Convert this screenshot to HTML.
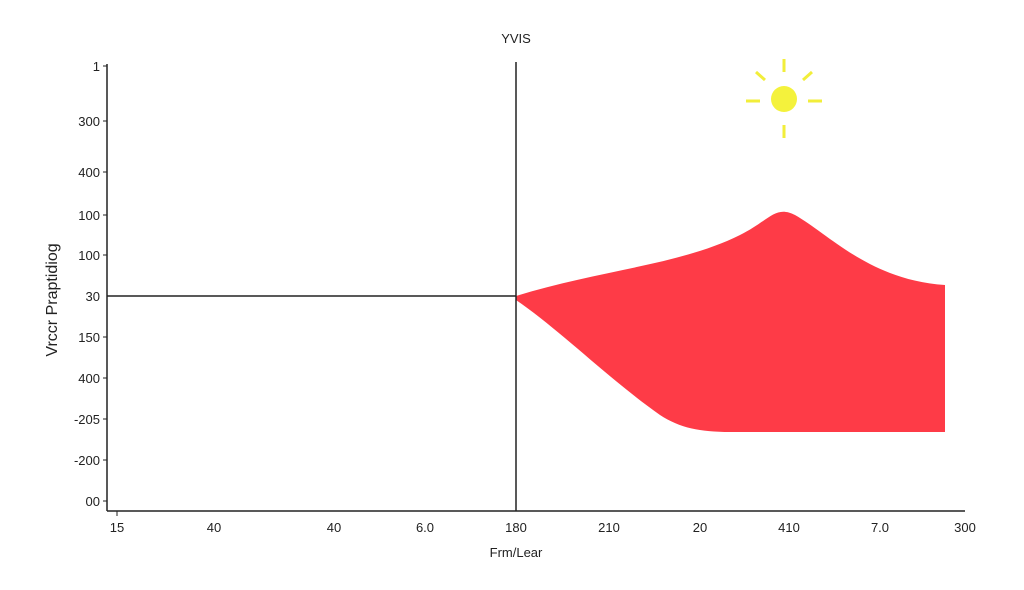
<!DOCTYPE html>
<html><head><style>
body{margin:0;background:#fff}
svg text{font-family:"Liberation Sans",sans-serif;fill:#222}
</style></head><body>
<svg width="1024" height="585" viewBox="0 0 1024 585">
<rect width="1024" height="585" fill="#fff"/>
<text x="516" y="43" font-size="13" text-anchor="middle">YVIS</text>
<path d="M516,296 C600,270 680,265 740,235 C770,220 775,205 795,215 C830,235 870,280 945,285 L945,432 L730,432 C700,432 680,428 660,415 C610,380 560,330 516,300 Z" fill="#fe3b47"/>
<g stroke="#f2ee3a" stroke-width="3">
<line x1="784" y1="59" x2="784" y2="72"/><line x1="784" y1="125" x2="784" y2="138"/>
<line x1="746" y1="101" x2="760" y2="101"/><line x1="808" y1="101" x2="822" y2="101"/>
<line x1="756" y1="72" x2="765" y2="80"/><line x1="812" y1="72" x2="803" y2="80"/>
</g>
<circle cx="784" cy="99" r="13" fill="#f4f23c"/>
<g stroke="#222" stroke-width="1.5" fill="none">
<line x1="107" y1="64" x2="107" y2="511"/>
<line x1="107" y1="511" x2="965" y2="511"/>
<line x1="516" y1="62" x2="516" y2="511"/>
<line x1="107" y1="296" x2="516" y2="296"/>
</g>
<g font-size="13" text-anchor="end">
<text x="100" y="71">1</text><text x="100" y="126">300</text><text x="100" y="177">400</text>
<text x="100" y="220">100</text><text x="100" y="260">100</text><text x="100" y="301">30</text>
<text x="100" y="342">150</text><text x="100" y="383">400</text><text x="100" y="424">-205</text>
<text x="100" y="465">-200</text><text x="100" y="506">00</text>
</g>
<g stroke="#222" stroke-width="1">
<line x1="103" y1="66" x2="107" y2="66"/><line x1="103" y1="121" x2="107" y2="121"/><line x1="103" y1="172" x2="107" y2="172"/><line x1="103" y1="215" x2="107" y2="215"/><line x1="103" y1="255" x2="107" y2="255"/><line x1="103" y1="337" x2="107" y2="337"/><line x1="103" y1="378" x2="107" y2="378"/><line x1="103" y1="419" x2="107" y2="419"/><line x1="103" y1="460" x2="107" y2="460"/><line x1="103" y1="501" x2="107" y2="501"/>
<line x1="117" y1="511" x2="117" y2="516"/>
</g>
<g font-size="13" text-anchor="middle">
<text x="117" y="532">15</text><text x="214" y="532">40</text><text x="334" y="532">40</text>
<text x="425" y="532">6.0</text><text x="516" y="532">180</text><text x="609" y="532">210</text>
<text x="700" y="532">20</text><text x="789" y="532">410</text><text x="880" y="532">7.0</text>
<text x="965" y="532">300</text>
<text x="516" y="557">Frm/Lear</text>
</g>
<text transform="translate(57,300) rotate(-90)" font-size="16" text-anchor="middle">Vrccr  Praptidiog</text>
</svg>
</body></html>
